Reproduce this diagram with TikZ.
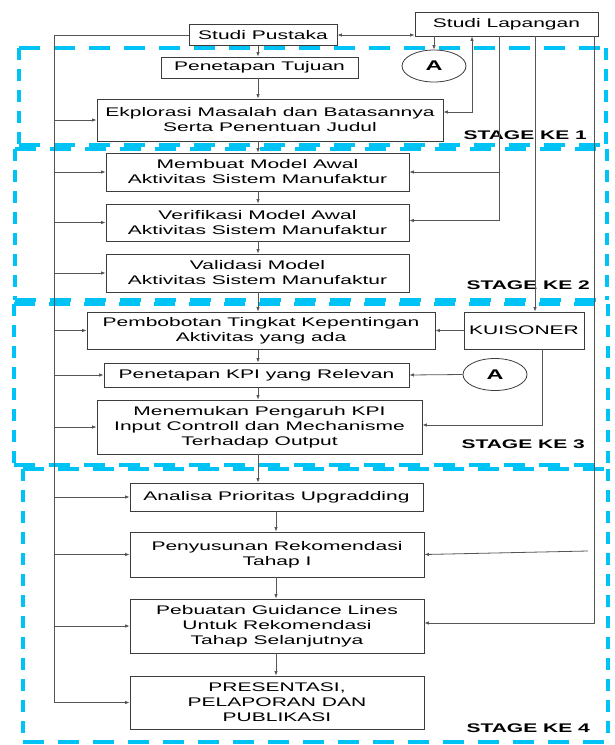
\documentclass[tikz,border=0pt]{standalone}
\usepackage{fontspec}
\setmainfont{Liberation Sans}[FakeStretch=1.68]
\usetikzlibrary{arrows.meta,shapes.geometric}
\definecolor{stagecyan}{RGB}{0,195,245}
\definecolor{linegray}{RGB}{85,85,85}
\definecolor{boxgray}{RGB}{60,60,60}
\begin{document}
\begin{tikzpicture}[x=1pt,y=-1pt,
  box/.style={draw=boxgray,line width=0.8pt,fill=white,inner sep=0pt,align=center,font=\fontsize{12.5}{15}\selectfont},
  conn/.style={draw=linegray,line width=0.8pt},
  arr/.style={conn,-{Latex[length=4.5pt,width=3.5pt]}},
  darr/.style={conn,{Latex[length=4.5pt,width=3.5pt]}-{Latex[length=4.5pt,width=3.5pt]}},
  circ/.style={ellipse,draw=boxgray,line width=0.8pt,minimum width=64pt,minimum height=32pt,inner sep=0pt,font=\fontsize{14}{14}\selectfont\bfseries},
  hdash/.style={draw=stagecyan,line width=3.5pt,dash pattern=on 21pt off 14pt},
  vdash/.style={draw=stagecyan,line width=4.5pt,dash pattern=on 12pt off 9pt},
  stagelbl/.style={font=\fontsize{12.5}{15}\selectfont\bfseries,anchor=east,inner sep=0pt}]
\useasboundingbox (0,0) rectangle (614,745);
\fill[white] (0,0) rectangle (614,745);

% stage frames
\draw[hdash] (19,48) -- (606,48);
\draw[hdash] (19,145) -- (606,145);
\draw[vdash] (19,48) -- (19,145);
\draw[vdash] (606,48) -- (606,145);

\draw[hdash] (15,149) -- (607,149);
\draw[hdash] (15,300) -- (607,300);
\draw[vdash] (15,149) -- (15,300);
\draw[vdash] (607,149) -- (607,300);

\draw[hdash] (14,304) -- (608,304);
\draw[hdash] (14,465) -- (608,465);
\draw[vdash] (14,304) -- (14,465);
\draw[vdash] (608,304) -- (608,465);

\draw[hdash] (23,469) -- (608,469);
\draw[hdash] (23,742) -- (608,742);
\draw[vdash] (23,469) -- (23,742);
\draw[vdash] (608,469) -- (608,742);

% nodes
\node[box,minimum width=148pt,minimum height=21pt] (pustaka) at (263,35) {Studi Pustaka};
\node[box,minimum width=183pt,minimum height=24pt] (lapangan) at (506.5,24) {Studi Lapangan};
\node[box,minimum width=197pt,minimum height=21pt] (tujuan) at (259.5,67.5) {Penetapan Tujuan};
\node[box,minimum width=346pt,minimum height=42pt] (ekplorasi) at (270,120) {Ekplorasi Masalah dan Batasannya\\Serta Penentuan Judul};
\node[box,minimum width=303pt,minimum height=38pt] (membuat) at (257.5,172) {Membuat Model Awal\\Aktivitas Sistem Manufaktur};
\node[box,minimum width=303pt,minimum height=37pt] (verifikasi) at (257.5,222.5) {Verifikasi Model Awal\\Aktivitas Sistem Manufaktur};
\node[box,minimum width=303pt,minimum height=38pt] (validasi) at (257.5,273) {Validasi Model\\Aktivitas Sistem Manufaktur};
\node[box,minimum width=348pt,minimum height=37pt] (pembobotan) at (261,330.5) {Pembobotan Tingkat Kepentingan\\Aktivitas yang ada};
\node[box,minimum width=120pt,minimum height=37pt] (kuisoner) at (524,330.5) {KUISONER};
\node[box,minimum width=305pt,minimum height=24pt] (kpi) at (256.5,375) {Penetapan KPI yang Relevan};
\node[box,minimum width=325pt,minimum height=54pt] (menemukan) at (259.5,427) {Menemukan Pengaruh KPI\\Input Controll dan Mechanisme\\Terhadap Output};
\node[box,minimum width=293pt,minimum height=28pt] (analisa) at (276.5,497) {Analisa Prioritas Upgradding};
\node[box,minimum width=294pt,minimum height=45pt] (penyusunan) at (277,554.5) {Penyusunan Rekomendasi\\Tahap I};
\node[box,minimum width=294pt,minimum height=54pt] (pebuatan) at (277,626) {Pebuatan Guidance Lines\\Untuk Rekomendasi\\Tahap Selanjutnya};
\node[box,minimum width=294pt,minimum height=53pt] (presentasi) at (277,702.5) {PRESENTASI,\\PELAPORAN DAN\\PUBLIKASI};
\node[circ] (A1) at (434,66) {A};
\node[circ] (A2) at (495,374.5) {A};

\node[stagelbl] (s1) at (587,135) {STAGE KE 1};
\node[stagelbl] (s2) at (590,285) {STAGE KE 2};
\node[stagelbl] (s3) at (585,444) {STAGE KE 3};
\node[stagelbl] (s4) at (590,728) {STAGE KE 4};

% helper coordinates
\coordinate (L) at (54,0);
\coordinate (M) at (258,0);
\coordinate (N) at (276,0);
\coordinate (R1) at (472,0);
\coordinate (R2) at (499,0);
\coordinate (R3) at (535,0);
\coordinate (R4) at (542,0);
\coordinate (R5) at (594,0);
\coordinate (pfree) at (588,551);

% left feedback line
\draw[conn] (pustaka.west) -| (L |- presentasi.west);
\foreach \n in {ekplorasi,membuat,verifikasi,validasi,pembobotan,kpi,menemukan,analisa,penyusunan,pebuatan,presentasi}
  \draw[arr] (L |- \n.west) -- (\n.west);

% main flow
\draw[darr] (pustaka.east) -- (pustaka.east -| lapangan.west);
\draw[arr] (M |- pustaka.south) -- (M |- tujuan.north);
\draw[arr] (M |- tujuan.south) -- (M |- ekplorasi.north);
\draw[arr] (M |- ekplorasi.south) -- (M |- membuat.north);
\draw[arr] (M |- membuat.south) -- (M |- verifikasi.north);
\draw[arr] (M |- verifikasi.south) -- (M |- validasi.north);
\draw[arr] (M |- validasi.south) -- (M |- pembobotan.north);
\draw[arr] (M |- pembobotan.south) -- (M |- kpi.north);
\draw[arr] (M |- kpi.south) -- (M |- menemukan.north);
\draw[arr] (M |- menemukan.south) -- (M |- analisa.north);
\draw[arr] (N |- analisa.south) -- (N |- penyusunan.north);
\draw[arr] (N |- penyusunan.south) -- (N |- pebuatan.north);
\draw[arr] (N |- pebuatan.south) -- (N |- presentasi.north);

% right side
\draw[arr] (A1.north |- lapangan.south) -- (A1.north);
\draw[darr] (R1 |- lapangan.south) |- ([yshift=8pt]ekplorasi.east);
\draw[arr] (R2 |- lapangan.south) |- ([yshift=2pt]verifikasi.east);
\draw[arr] (R2 |- membuat.east) -- (membuat.east);
\draw[arr] (R3 |- lapangan.south) -- (R3 |- kuisoner.north);
\draw[arr] (kuisoner.west) -- (pembobotan.east);
\draw[arr] (R4 |- kuisoner.south) |- ([yshift=2pt]menemukan.east);
\draw[arr] (A2.west) -- (kpi.east);
\draw[arr] (R5 |- lapangan.south) |- ([yshift=3pt]pebuatan.east);
\draw[arr] (pfree) -- (penyusunan.east);
\end{tikzpicture}
\end{document}
